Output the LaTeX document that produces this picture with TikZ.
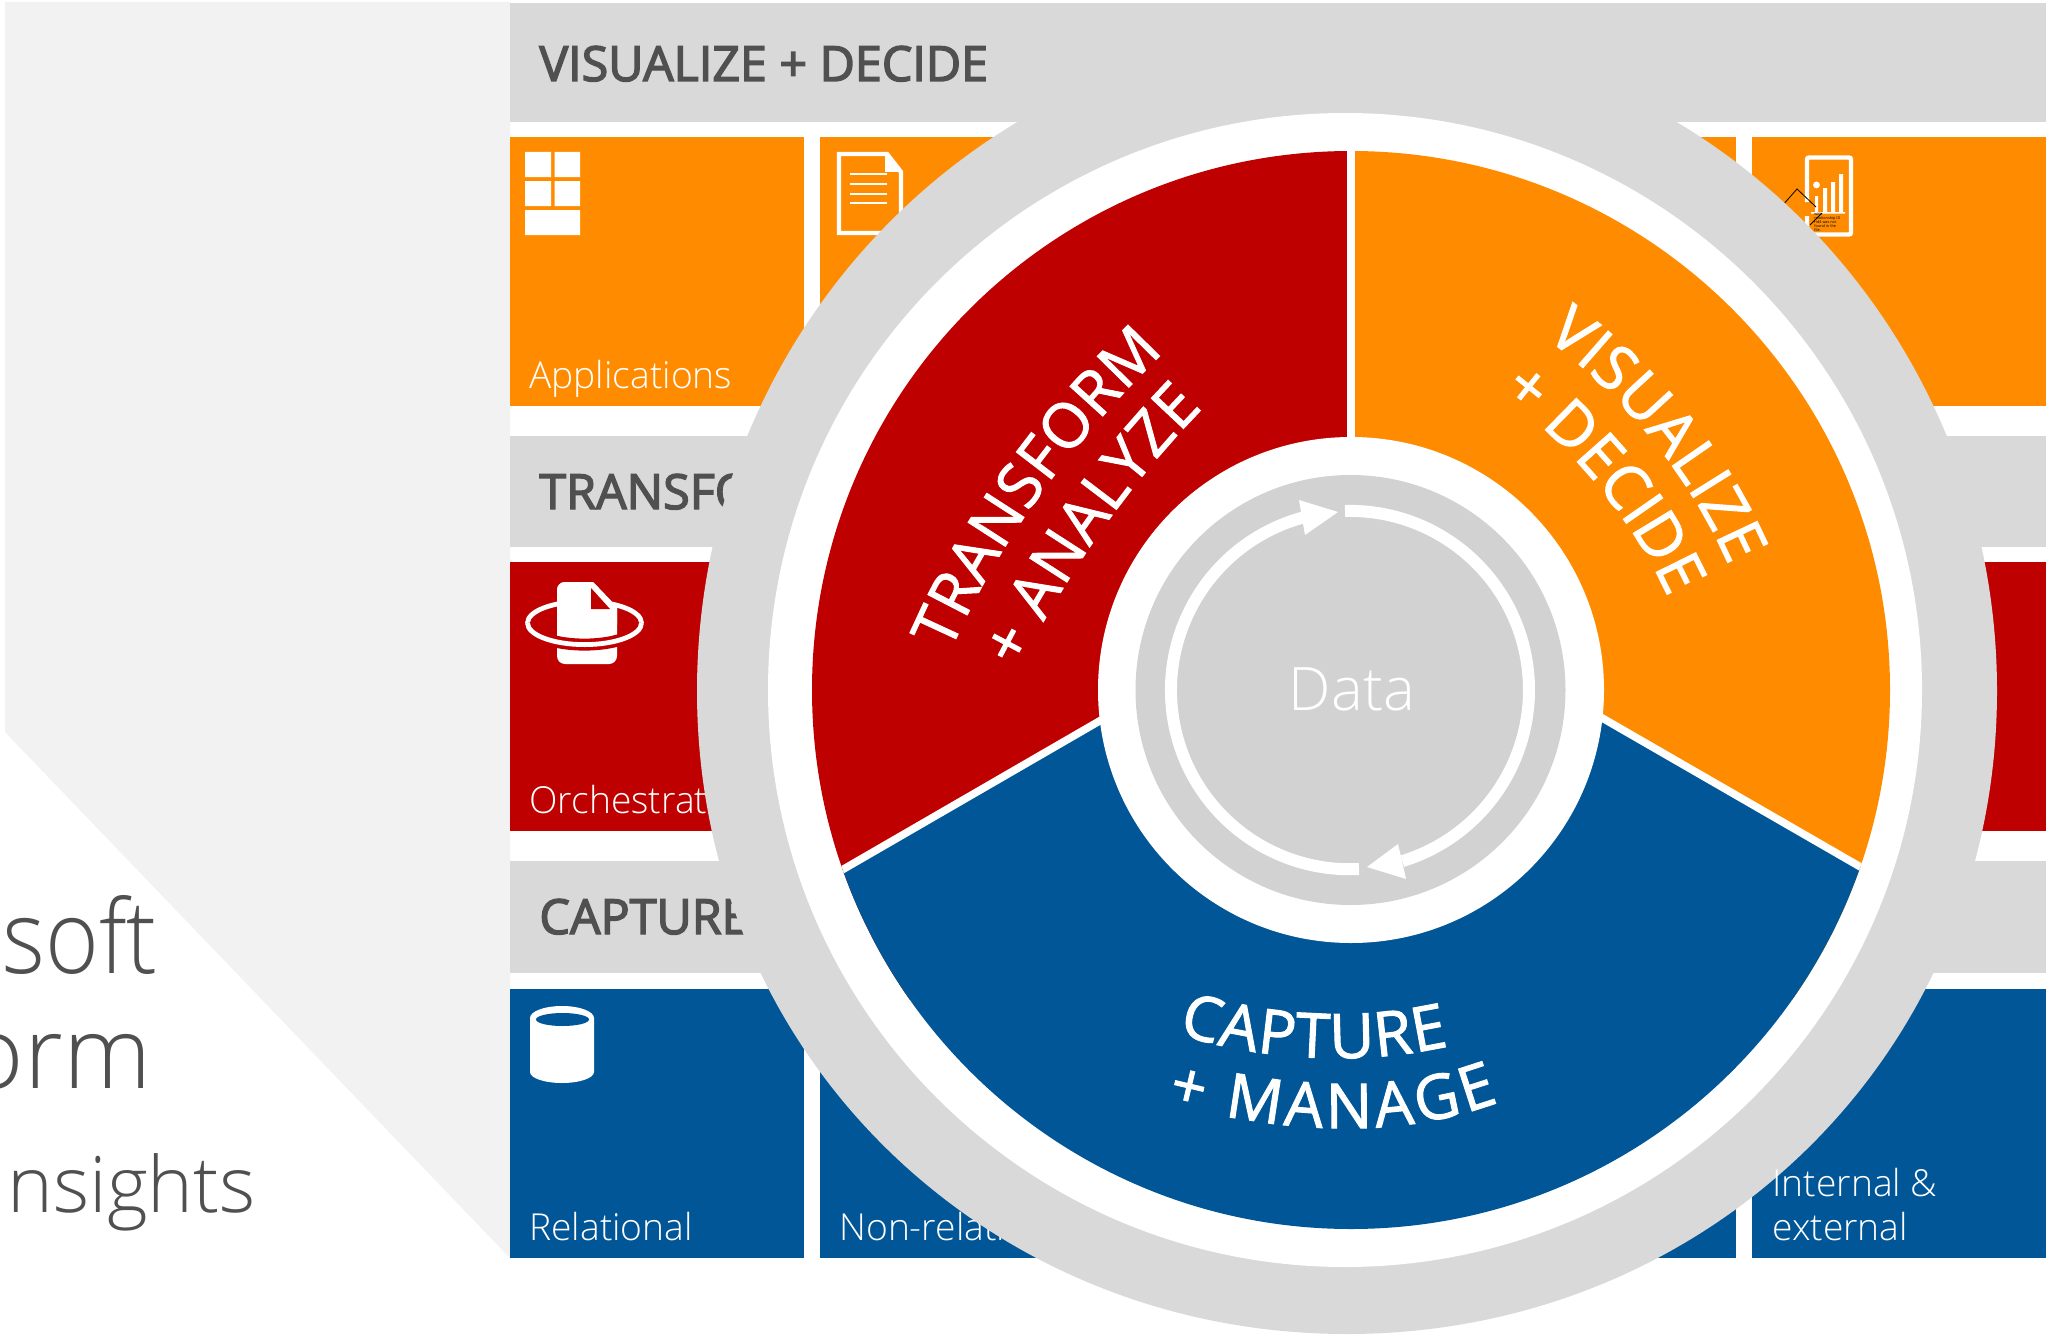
\documentclass[tikz,border=0pt]{standalone}
\usepackage{fontspec}
\usetikzlibrary{decorations.text}
\setmainfont{Open Sans}
\newfontfamily\lightf{Open Sans Light}
\newfontfamily\softf[FakeStretch=0.9]{Open Sans Light}
\newfontfamily\semif[FakeBold=3]{Open Sans}
\newfontfamily\wheelfam[FakeBold=1.6]{Open Sans}
\definecolor{org}{HTML}{FF8C00}
\definecolor{rd}{HTML}{BE0000}
\definecolor{blu}{HTML}{005696}
\definecolor{hdr}{HTML}{D9D9D9}
\definecolor{core}{HTML}{D2D2D2}
\definecolor{pale}{HTML}{F2F2F2}
\definecolor{ink}{HTML}{505050}
\newcommand{\wheelf}{\wheelfam\fontsize{31}{31}\selectfont}
\tikzset{
  ttext/.style={anchor=base west,inner sep=0,text=white,font=\lightf\fontsize{18.6}{18.6}\selectfont},
  htext/.style={anchor=base west,inner sep=0,text=ink,font=\semif\fontsize{24.2}{24.2}\selectfont},
  titletext/.style={anchor=base east,inner sep=0,text=ink,font=\lightf},
  wheeltext/.style={decorate},
}
\begin{document}
\begin{tikzpicture}[x=0.5pt,y=-0.5pt]
\useasboundingbox (0,0) rectangle (2051,1338);
\fill[white] (0,0) rectangle (2051,1338);
% pale panel
\fill[pale] (5,2) -- (510,2) -- (510,1258) -- (5,732) -- cycle;
% title
\node[titletext,font=\softf\fontsize{51}{51}\selectfont] (t1) at (158,973) {soft};
\node[titletext,font=\lightf\fontsize{50}{50}\selectfont] (t2) at (152,1088) {orm};
\node[titletext,font=\lightf\fontsize{38.8}{38.8}\selectfont] (t3) at (256,1212) {nsights};
% headers
\fill[hdr] (510,3) rectangle (2046,122);
\fill[hdr] (510,436) rectangle (2046,547);
\fill[hdr] (510,861) rectangle (2046,973);
\node[htext] (h1) at (539,81) {VISUALIZE + DECIDE};
\node[htext] (h2) at (539,509) {TRANSFO};
\node[htext] (h3) at (539,934) {CAPTURE};
% tiles
\foreach \xa/\xb in {510/804,820/1114,1131/1425,1441/1736,1752/2046}{
  \fill[org] (\xa,137) rectangle (\xb,406);
  \fill[rd] (\xa,562) rectangle (\xb,831);
  \fill[blu] (\xa,989) rectangle (\xb,1258);
}
\node[ttext] (l1) at (529,388) {Applications};
\node[ttext] (l2) at (529,813) {Orchestrati};
\node[ttext] (l3) at (529,1240) {Relational};
\node[ttext] (l4) at (839,1240) {Non-relati};
% icons: grid
\fill[white] (525,152) rectangle (551,177) (554.5,152) rectangle (580,177)
 (525,181) rectangle (551,206) (554.5,181) rectangle (580,206) (525,210) rectangle (580,235);
% icons: document
\draw[white,line width=2.2pt,line join=miter] (839,154) -- (887,154) -- (901,172) -- (901,233) -- (839,233) -- cycle;
\fill[white] (885,152) -- (903,172) -- (885,172) -- cycle;
\foreach \y in {174,184,194,203}{\fill[white] (850,\y-1.3) rectangle (887,\y+1.3);}
% icons: report
\draw[white,line width=2.2pt,rounded corners=1pt] (1807,202) -- (1807,157.5) -- (1851,157.5) -- (1851,234.5) -- (1807,234.5) -- (1807,216);
\fill[white] (1823,188) rectangle (1827,213) (1831,182) rectangle (1835,213) (1839,174) rectangle (1843,213)
 (1815,196) rectangle (1818,213) (1811,212) rectangle (1845,213.5);
\fill[white] (1816.5,185) circle[radius=3.4];
\draw[black,line width=0.4pt] (1782,206) -- (1797,189) -- (1816,207) (1810,225) -- (1822,213);
\node[inner sep=0,anchor=north west,align=left,font=\fontsize{1.9}{2}\selectfont,text=black] (tiny) at (1814,212) {with\\relationship ID\\rId4 was not\\found in the\\file.};
% icons: orchestration
\fill[white] (557,590) arc[start angle=180,end angle=270,radius=8] -- (593,582) -- (617,607) -- (617,656) arc[start angle=0,end angle=90,radius=8] -- (565,664) arc[start angle=90,end angle=180,radius=8] -- cycle;
\draw[white,line width=2.4pt] (584.5,623) ellipse[x radius=57,y radius=21.6];
\fill[white] (557,590) arc[start angle=180,end angle=270,radius=8] -- (593,582) -- (617,607) -- (617,625) -- (557,625) -- cycle;
\fill[rd] (591,588) -- (610,609) -- (591,609) -- cycle;
\draw[rd,line width=6pt] (641.5,623) arc[start angle=0,end angle=180,x radius=57,y radius=21.6];
\draw[white,line width=2.4pt] (641.5,623) arc[start angle=0,end angle=180,x radius=57,y radius=21.6];
% icons: cylinder
\fill[white] (530,1018) arc[start angle=180,end angle=360,x radius=32,y radius=12] -- (594,1072) arc[start angle=0,end angle=180,x radius=32,y radius=11] -- cycle;
\fill[blu] (562.5,1019.5) ellipse[x radius=26.5,y radius=6.5];
% ring
\fill[hdr] (697,691) arc[start angle=180,end angle=360,x radius=650,y radius=660]
  .. controls (1997,1056) and (1706,1334) .. (1347,1334)
  .. controls (988,1334) and (697,1056) .. (697,691) -- cycle;
\fill[white] (1345,690) circle[radius=577];
\node[ttext] (l5) at (1772,1196) {Internal \&};
\node[ttext] (l6) at (1772,1240) {external};
% wheel
\begin{scope}
\clip (1351,690) circle[radius=539];
\fill[rd] (800,140) rectangle (1351,1000);
\fill[org] (1351,140) rectangle (1900,1000);
\fill[blu] (1353,574) -- (1949,918) -- (1949,1250) -- (759,1250) -- (759,918) -- cycle;
\draw[white,line width=3.8pt] (1351,140) -- (1351,574) (759,918) -- (1357,572) (1349,572) -- (1949,918);
\end{scope}
\fill[white] (1351,690) circle[radius=253];
\fill[core] (1350.5,690) circle[radius=215];
% inner cycle arrows
\coordinate (c) at (1350,690);
\draw[white,line width=6pt] (1345,511) arc[start angle=-91.6,end angle=73,radius=179];
\fill[white] (1367,867) -- (1398,844) -- (1402,861) -- (1406,879) -- cycle;
\draw[white,line width=6pt] (1359,869) arc[start angle=87.1,end angle=255,radius=179];
\fill[white] (1338,512) -- (1299,500) -- (1302,518) -- (1305,535) -- cycle;
\node[inner sep=0,text=white,anchor=base,font=\lightf\fontsize{30}{30}\selectfont] (data) at (1352,710) {Data};
% wheel labels
\path[wheeltext,decoration={text along path,text align=fit to path,text={|\wheelf\color{white}|TRANSFORM}}]
  (950,652) .. controls (1003,531) and (1079,435) .. (1164,352);
\path[wheeltext,decoration={text along path,text align=fit to path,text={|\wheelf\color{white}|+ ANALYZE}}]
  (1018,669) .. controls (1074,560) and (1135,478) .. (1203,408);
\path[wheeltext,decoration={text along path,text align=fit to path,text={|\wheelf\color{white}|VISUALIZE}}]
  (1545,337) .. controls (1629,400) and (1692,480) .. (1729,566);
\path[wheeltext,decoration={text along path,text align=fit to path,text={|\wheelf\color{white}|+ DECIDE}}]
  (1501,393) .. controls (1570,445) and (1632,517) .. (1668,597);
\path[wheeltext,decoration={text along path,text align=fit to path,text={|\wheelf\color{white}|CAPTURE}}]
  (1178,1034) .. controls (1265,1061) and (1360,1066) .. (1449,1046);
\path[wheeltext,decoration={text along path,text align=fit to path,text={|\wheelf\color{white}|+ MANAGE}}]
  (1167,1103) .. controls (1276,1131) and (1392,1142) .. (1499,1102);
\end{tikzpicture}
\end{document}
